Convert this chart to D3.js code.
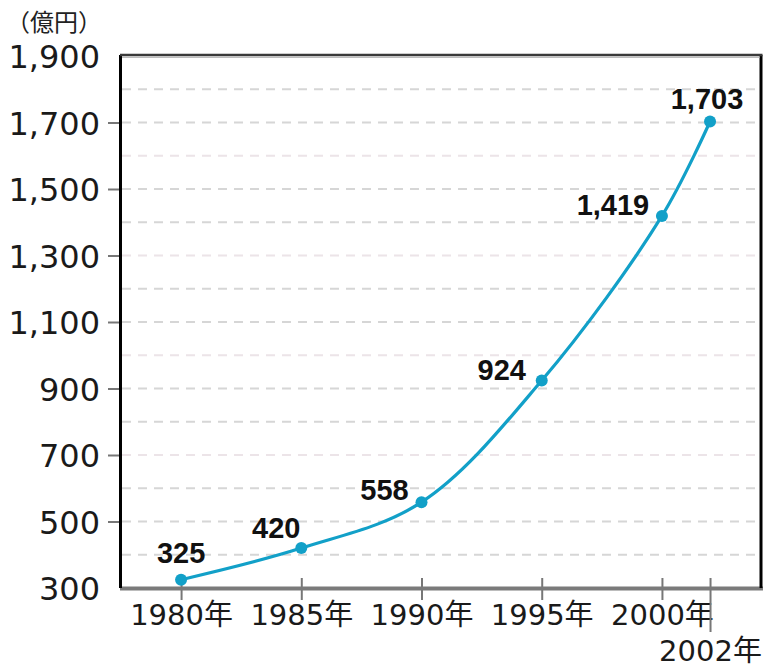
<!DOCTYPE html>
<html>
<head>
<meta charset="utf-8">
<script src="https://cdn.jsdelivr.net/npm/d3@7"></script>
<style>
  html, body { margin: 0; padding: 0; background: #fff; }
  svg { display: block; }
</style>
</head>
<body>
<svg id="chart" width="767" height="668"></svg>
<script>
// Market size (億円) by year
const years = [1980, 1985, 1990, 1995, 2000, 2002];
const values = [325, 420, 558, 924, 1419, 1703];
const yTicks = [300, 500, 700, 900, 1100, 1300, 1500, 1700, 1900];
const gridValues = [400, 500, 600, 700, 800, 900, 1000, 1100, 1200, 1300, 1400, 1500, 1600, 1700, 1800];
const unitLabel = "（億円）";

const svg = d3.select("#chart");
const plotLeft = 120, plotRight = 761, plotTop = 56, plotBottom = 588;

const x = d3.scaleLinear().domain([1977.46, 2004.12]).range([plotLeft, plotRight]);
const y = d3.scaleLinear().domain([300, 1900]).range([plotBottom, plotTop]);

const fmt = d3.format(",");
const numFont = "'DejaVu Sans', sans-serif";

// dashed horizontal grid
svg.append("g").selectAll("line").data(gridValues).join("line")
  .attr("x1", plotLeft + 2).attr("x2", plotRight - 2)
  .attr("y1", d => y(d)).attr("y2", d => y(d))
  .attr("stroke", d => [700, 1000, 1300, 1600].includes(d) ? "#ece4e8" : "#d6d6d6")
  .attr("stroke-width", 2)
  .attr("stroke-dasharray", "9 7");

// y axis with short outer ticks and wide labels
const yAxis = svg.append("g")
  .attr("transform", `translate(${plotLeft},0)`)
  .call(d3.axisLeft(y).tickValues(yTicks).tickFormat(fmt).tickSize(12).tickPadding(8));
yAxis.select(".domain").remove();
yAxis.selectAll(".tick line").attr("stroke", "#777").attr("stroke-width", 2)
  .filter(d => d === 300 || d === 1900).remove();
yAxis.selectAll(".tick text")
  .attr("x", -20)
  .attr("font-family", numFont)
  .attr("font-size", 32)
  .attr("fill", "#1a1a1a")
  .attr("dy", "0.36em");

// x axis: ticks crossing the baseline, labels below
const xAxis = svg.append("g")
  .attr("transform", `translate(0,${plotBottom})`)
  .call(d3.axisBottom(x).tickValues(years).tickFormat(d => d + "年").tickSize(12).tickPadding(4));
xAxis.select(".domain").remove();
xAxis.selectAll(".tick line")
  .attr("y1", -10)
  .attr("y2", d => d === 2002 ? 44 : 12)
  .attr("stroke", "#777").attr("stroke-width", 2);
xAxis.selectAll(".tick text")
  .attr("y", d => d === 2002 ? 52 : 16)
  .attr("font-family", numFont + ", 'Noto Sans CJK JP'")
  .attr("font-size", 29)
  .attr("fill", "#1a1a1a");

// frame: gray baseline, black left/right edges, dark top edge
svg.append("line").attr("x1", plotLeft).attr("x2", plotRight + 2).attr("y1", plotBottom + 0.5).attr("y2", plotBottom + 0.5)
  .attr("stroke", "#7a7a7a").attr("stroke-width", 4);
svg.append("line").attr("x1", plotLeft + 0.5).attr("x2", plotLeft + 0.5).attr("y1", plotTop - 1).attr("y2", plotBottom)
  .attr("stroke", "#000").attr("stroke-width", 3);
svg.append("line").attr("x1", plotRight).attr("x2", plotRight).attr("y1", plotTop - 1).attr("y2", plotBottom)
  .attr("stroke", "#000").attr("stroke-width", 3);
svg.append("line").attr("x1", plotLeft).attr("x2", plotRight + 1.5).attr("y1", plotTop - 1).attr("y2", plotTop - 1)
  .attr("stroke", "#3a3a3a").attr("stroke-width", 2.5);
svg.append("line").attr("x1", plotLeft + 2).attr("x2", plotRight - 1.5).attr("y1", plotTop + 1.2).attr("y2", plotTop + 1.2)
  .attr("stroke", "#bdbdbd").attr("stroke-width", 1.5);

// unit label
svg.append("text")
  .attr("x", 6).attr("y", 31)
  .attr("font-family", "'Noto Sans CJK JP', sans-serif")
  .attr("font-size", 24)
  .attr("fill", "#222")
  .text(unitLabel);

// series line
const pts = years.map((yr, i) => [x(yr), y(values[i])]);
svg.append("path")
  .attr("d", d3.line().curve(d3.curveCatmullRom.alpha(0.5))(pts))
  .attr("fill", "none")
  .attr("stroke", "#12a0c8")
  .attr("stroke-width", 3.2);

svg.append("g").selectAll("circle").data(pts).join("circle")
  .attr("cx", d => d[0]).attr("cy", d => d[1]).attr("r", 6)
  .attr("fill", "#12a0c8");

// value labels, nudged to sit beside each point
const labelOffsets = [[0, -17], [-25, -10], [-37, -2], [-40, -1], [-49, -1], [-3, -13]];
svg.append("g").selectAll("text").data(values).join("text")
  .attr("x", (d, i) => pts[i][0] + labelOffsets[i][0])
  .attr("y", (d, i) => pts[i][1] + labelOffsets[i][1])
  .attr("text-anchor", "middle")
  .attr("font-family", "'Liberation Sans', Arial, sans-serif")
  .attr("font-weight", "bold")
  .attr("font-size", 29)
  .attr("fill", "#111")
  .text(d => fmt(d));
</script>
</body>
</html>
